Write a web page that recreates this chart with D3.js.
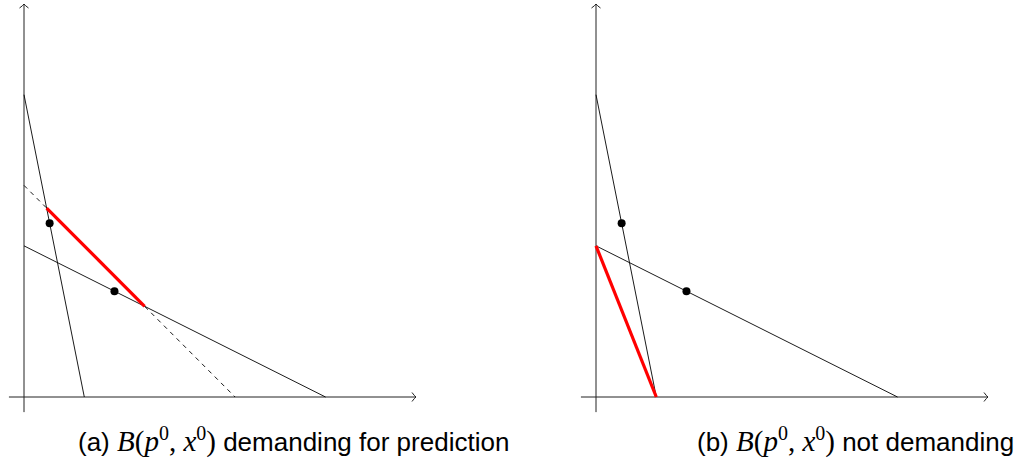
<!DOCTYPE html>
<html lang="en">
<head>
<meta charset="UTF-8">
<title>Budget sets</title>
<script src="https://cdnjs.cloudflare.com/ajax/libs/d3/7.8.5/d3.min.js"></script>
<style>
  * { margin: 0; padding: 0; }
  body { background: #fff; }
  svg { display: block; }
  .cap { font-family: "Liberation Sans", "DejaVu Sans", sans-serif; font-size: 26px; fill: #000; }
  .math { font-family: "Liberation Serif", "DejaVu Serif", serif; }
</style>
</head>
<body>
<svg id="chart" width="1027" height="463"></svg>
<script>
// budget lines as [x-intercept, y-intercept] in data units
const steepLine = [2, 10];
const shallowLine = [10, 5];
const dashedLine = [7, 7];
// observed bundles
const points = [[0.85, 5.75], [3, 3.5]];
// highlighted segments
const redA = [[0.75, 6.25], [4, 3]];
const redB = [[0, 5], [2, 0]];
const axisMin = -0.5, axisMax = 13;
const captions = [
  { tag: "(a) ", rest: " demanding for prediction" },
  { tag: "(b) ", rest: " not demanding" }
];

const svg = d3.select("#chart");

const panels = [
  { x0: 24, dashed: true, red: redA, cap: captions[0], capX: 78 },
  { x0: 596, dashed: false, red: redB, cap: captions[1], capX: 697 }
];

panels.forEach(p => {
  const x = d3.scaleLinear().domain([0, 13]).range([p.x0, p.x0 + 392]);
  const y = d3.scaleLinear().domain([0, 13]).range([397, 4]);
  const g = svg.append("g");

  // axes
  g.append("line")
    .attr("x1", x(axisMin)).attr("x2", x(axisMax))
    .attr("y1", y(0)).attr("y2", y(0))
    .attr("stroke", "#222").attr("stroke-width", 1);
  g.append("line")
    .attr("x1", x(0)).attr("x2", x(0))
    .attr("y1", y(axisMin)).attr("y2", y(axisMax))
    .attr("stroke", "#222").attr("stroke-width", 1);
  // arrow heads
  const ax = x(axisMax), ay = y(0);
  g.append("path")
    .attr("d", `M${ax - 4},${ay - 4.5} Q${ax - 1.5},${ay - 1} ${ax},${ay} Q${ax - 1.5},${ay + 1} ${ax - 4},${ay + 4.5}`)
    .attr("fill", "none").attr("stroke", "#222").attr("stroke-width", 1);
  const bx = x(0), by = y(axisMax);
  g.append("path")
    .attr("d", `M${bx - 4.5},${by + 4} Q${bx - 1},${by + 1.5} ${bx},${by} Q${bx + 1},${by + 1.5} ${bx + 4.5},${by + 4}`)
    .attr("fill", "none").attr("stroke", "#222").attr("stroke-width", 1);

  const line = d3.line().x(d => x(d[0])).y(d => y(d[1]));
  const seg = l => [[0, l[1]], [l[0], 0]];

  if (p.dashed) {
    g.append("path").attr("d", line(seg(dashedLine)))
      .attr("fill", "none").attr("stroke", "#000").attr("stroke-width", 0.9)
      .attr("stroke-dasharray", "4.5,4.5");
  }
  [steepLine, shallowLine].forEach(l => {
    g.append("path").attr("d", line(seg(l)))
      .attr("fill", "none").attr("stroke", "#000").attr("stroke-width", 0.9);
  });

  g.append("path").attr("d", line(p.red))
    .attr("fill", "none").attr("stroke", "#ff0000").attr("stroke-width", 3.2);

  g.selectAll("circle.pt").data(points).join("circle")
    .attr("class", "pt")
    .attr("cx", d => x(d[0])).attr("cy", d => y(d[1]))
    .attr("r", 4).attr("fill", "#000");

  // caption
  const t = svg.append("text").attr("class", "cap")
    .attr("x", p.capX).attr("y", 451);
  t.append("tspan").text(p.cap.tag);
  t.append("tspan").attr("class", "math").attr("font-style", "italic").attr("font-size", 29).text("B");
  t.append("tspan").attr("class", "math").attr("font-size", 29).text("(");
  t.append("tspan").attr("class", "math").attr("font-style", "italic").attr("font-size", 29).text("p");
  t.append("tspan").attr("class", "math").attr("font-size", 20).attr("dy", -11).text("0");
  t.append("tspan").attr("class", "math").attr("font-size", 29).attr("dy", 11).text(", ");
  t.append("tspan").attr("class", "math").attr("font-style", "italic").attr("font-size", 29).text("x");
  t.append("tspan").attr("class", "math").attr("font-size", 20).attr("dy", -11).text("0");
  t.append("tspan").attr("class", "math").attr("font-size", 29).attr("dy", 11).text(")");
  t.append("tspan").text(p.cap.rest);
});
</script>
</body>
</html>
